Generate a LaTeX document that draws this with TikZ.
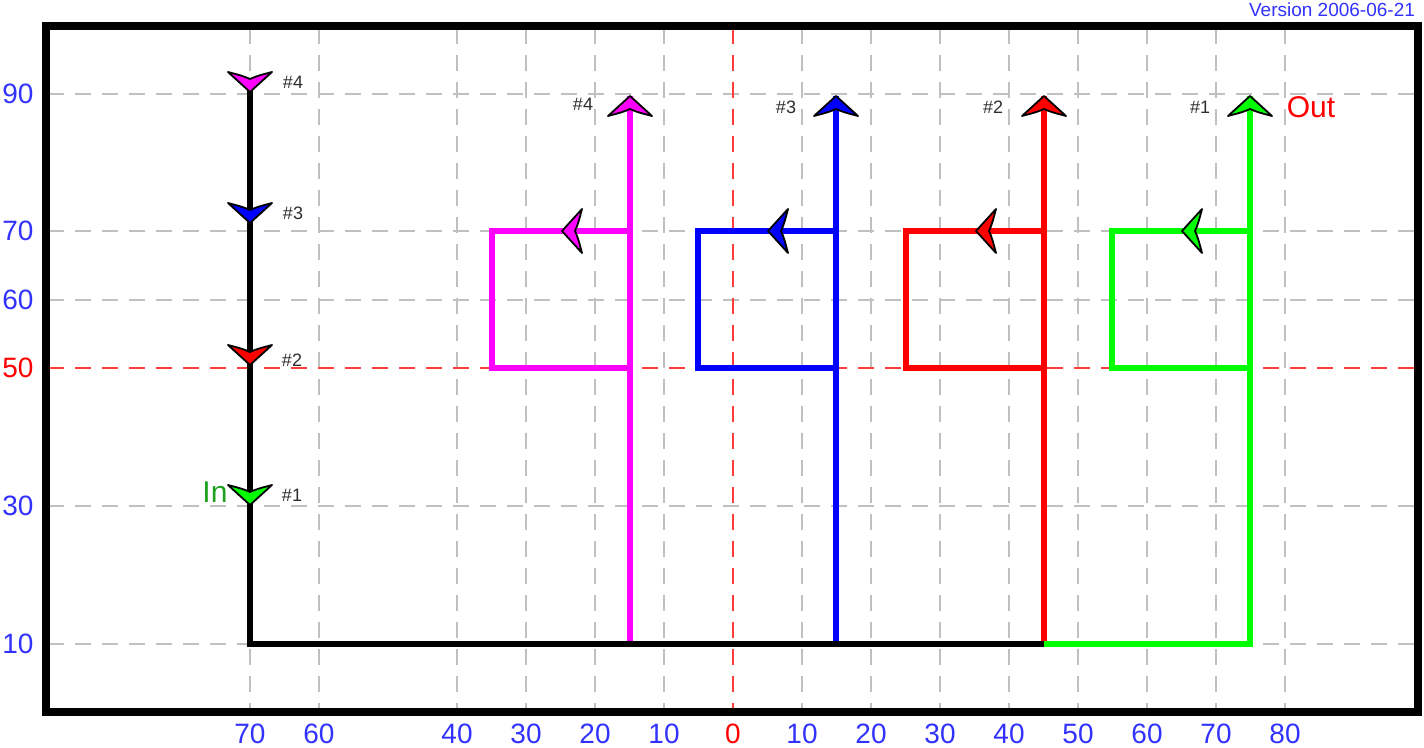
\documentclass[tikz,border=0pt]{standalone}
\usepackage{fontspec}
\setmainfont{Liberation Sans}
\definecolor{gridgrey}{RGB}{192,192,192}
\definecolor{axblue}{RGB}{50,50,255}
\definecolor{mag}{RGB}{255,0,255}
\definecolor{blu}{RGB}{0,0,255}
\definecolor{rd}{RGB}{255,0,0}
\definecolor{grn}{RGB}{0,255,0}
\definecolor{ingreen}{RGB}{30,160,30}
\definecolor{labgrey}{RGB}{45,45,45}
\definecolor{gridred}{RGB}{255,60,60}
\newcommand\ahead[3]{%
  \begin{scope}[shift={(#1)},rotate=#2]
    \filldraw[fill=#3,draw=black,line width=0.9pt,line join=round]
      (0,0) -- (-20,22) .. controls (-16,7) .. (-13,0)
      .. controls (-16,-7) .. (-20,-22) -- cycle;
  \end{scope}}
\begin{document}
\begin{tikzpicture}[x=0.5pt,y=-0.5pt,
  gridline/.style={draw=gridgrey,line width=1pt,dash pattern=on 8pt off 5.5pt},
  redline/.style={draw=gridred,line width=1pt,dash pattern=on 8pt off 5.5pt},
  flow/.style={line width=2.6pt,line join=miter},
  frameline/.style={line width=3.6pt},
  axlab/.style={font=\fontsize{14}{14}\selectfont,text=axblue},
  numlab/.style={font=\fontsize{9}{9}\selectfont,text=labgrey},
  bigtxt/.style={font=\fontsize{15}{15}\selectfont}]
\useasboundingbox (0,0) rectangle (1424,748);
% grid
\foreach \gx in {250,319,457,526,595,664,802,871,940,1009,1078,1147,1216,1285}
  \draw[gridline] (\gx,28) -- (\gx,710);
\foreach \gy in {94,231,300,506,644}
  \draw[gridline] (48,\gy) -- (1416,\gy);
\draw[redline] (733,28) -- (733,710);
\draw[redline] (48,368) -- (1416,368);
% coordinates
\coordinate (kT) at (250,90);
\coordinate (kC) at (250,644);
\coordinate (kE) at (1044,644);
\foreach \n/\vx in {m/630,b/836,r/1044,g/1250}{
  \coordinate (\n T) at (\vx,96);
  \coordinate (\n B) at (\vx,644);
  \coordinate (\n 50) at (\vx,368);
  \coordinate (\n 70) at (\vx,231);
  \coordinate (\n L50) at ({\vx-138},368);
  \coordinate (\n L70) at ({\vx-138},231);
  \coordinate (\n A) at ({\vx-68},231);
}
% flows
\draw[flow,mag] (mB) -- (mT);
\draw[flow,mag] (m50) -- (mL50) -- (mL70) -- (m70);
\draw[flow,blu] (bB) -- (bT);
\draw[flow,blu] (b50) -- (bL50) -- (bL70) -- (b70);
\draw[flow,rd] (rB) -- (rT);
\draw[flow,rd] (r50) -- (rL50) -- (rL70) -- (r70);
\draw[flow,grn] (kE) -- (gB) -- (gT);
\draw[flow,grn] (g50) -- (gL50) -- (gL70) -- (g70);
\draw[flow,black] (kT) -- (kC) -- (kE);
% frame
\draw[frameline] (46,26) rectangle (1418,712);
% arrowheads
\ahead{mT}{90}{mag}
\ahead{bT}{90}{blu}
\ahead{rT}{90}{rd}
\ahead{gT}{90}{grn}
\ahead{mA}{180}{mag}
\ahead{bA}{180}{blu}
\ahead{rA}{180}{rd}
\ahead{gA}{180}{grn}
\coordinate (d4) at (250,92);
\coordinate (d3) at (250,223);
\coordinate (d2) at (250,365);
\coordinate (d1) at (250,505);
\ahead{d4}{-90}{mag}
\ahead{d3}{-90}{blu}
\ahead{d2}{-90}{rd}
\ahead{d1}{-90}{grn}
% small labels
\node[numlab] (l4) at (293,82) {\#4};
\node[numlab] (l3) at (293,213) {\#3};
\node[numlab] (l2) at (292,360) {\#2};
\node[numlab] (l1) at (292,495) {\#1};
\node[numlab] (t4) at (583,104) {\#4};
\node[numlab] (t3) at (786,107) {\#3};
\node[numlab] (t2) at (993,107) {\#2};
\node[numlab] (t1) at (1200,107) {\#1};
\node[bigtxt,text=ingreen] (inlab) at (215,492) {In};
\node[bigtxt,text=rd] (outlab) at (1311,107) {Out};
\node[anchor=east,font=\fontsize{9.5}{10}\selectfont,text=axblue] (ver) at (1422,10) {Version 2006-06-21};
% axis labels
\foreach \yy/\t in {94/90,231/70,300/60,506/30,644/10}
  \node[axlab] at (18,\yy) {\t};
\node[axlab,text=rd] at (18,368) {50};
\foreach \xx/\t in {250/70,319/60,457/40,526/30,595/20,664/10,802/10,871/20,940/30,1009/40,1078/50,1147/60,1216/70,1285/80}
  \node[axlab] at (\xx,734) {\t};
\node[axlab,text=rd] at (733,734) {0};
\end{tikzpicture}
\end{document}
